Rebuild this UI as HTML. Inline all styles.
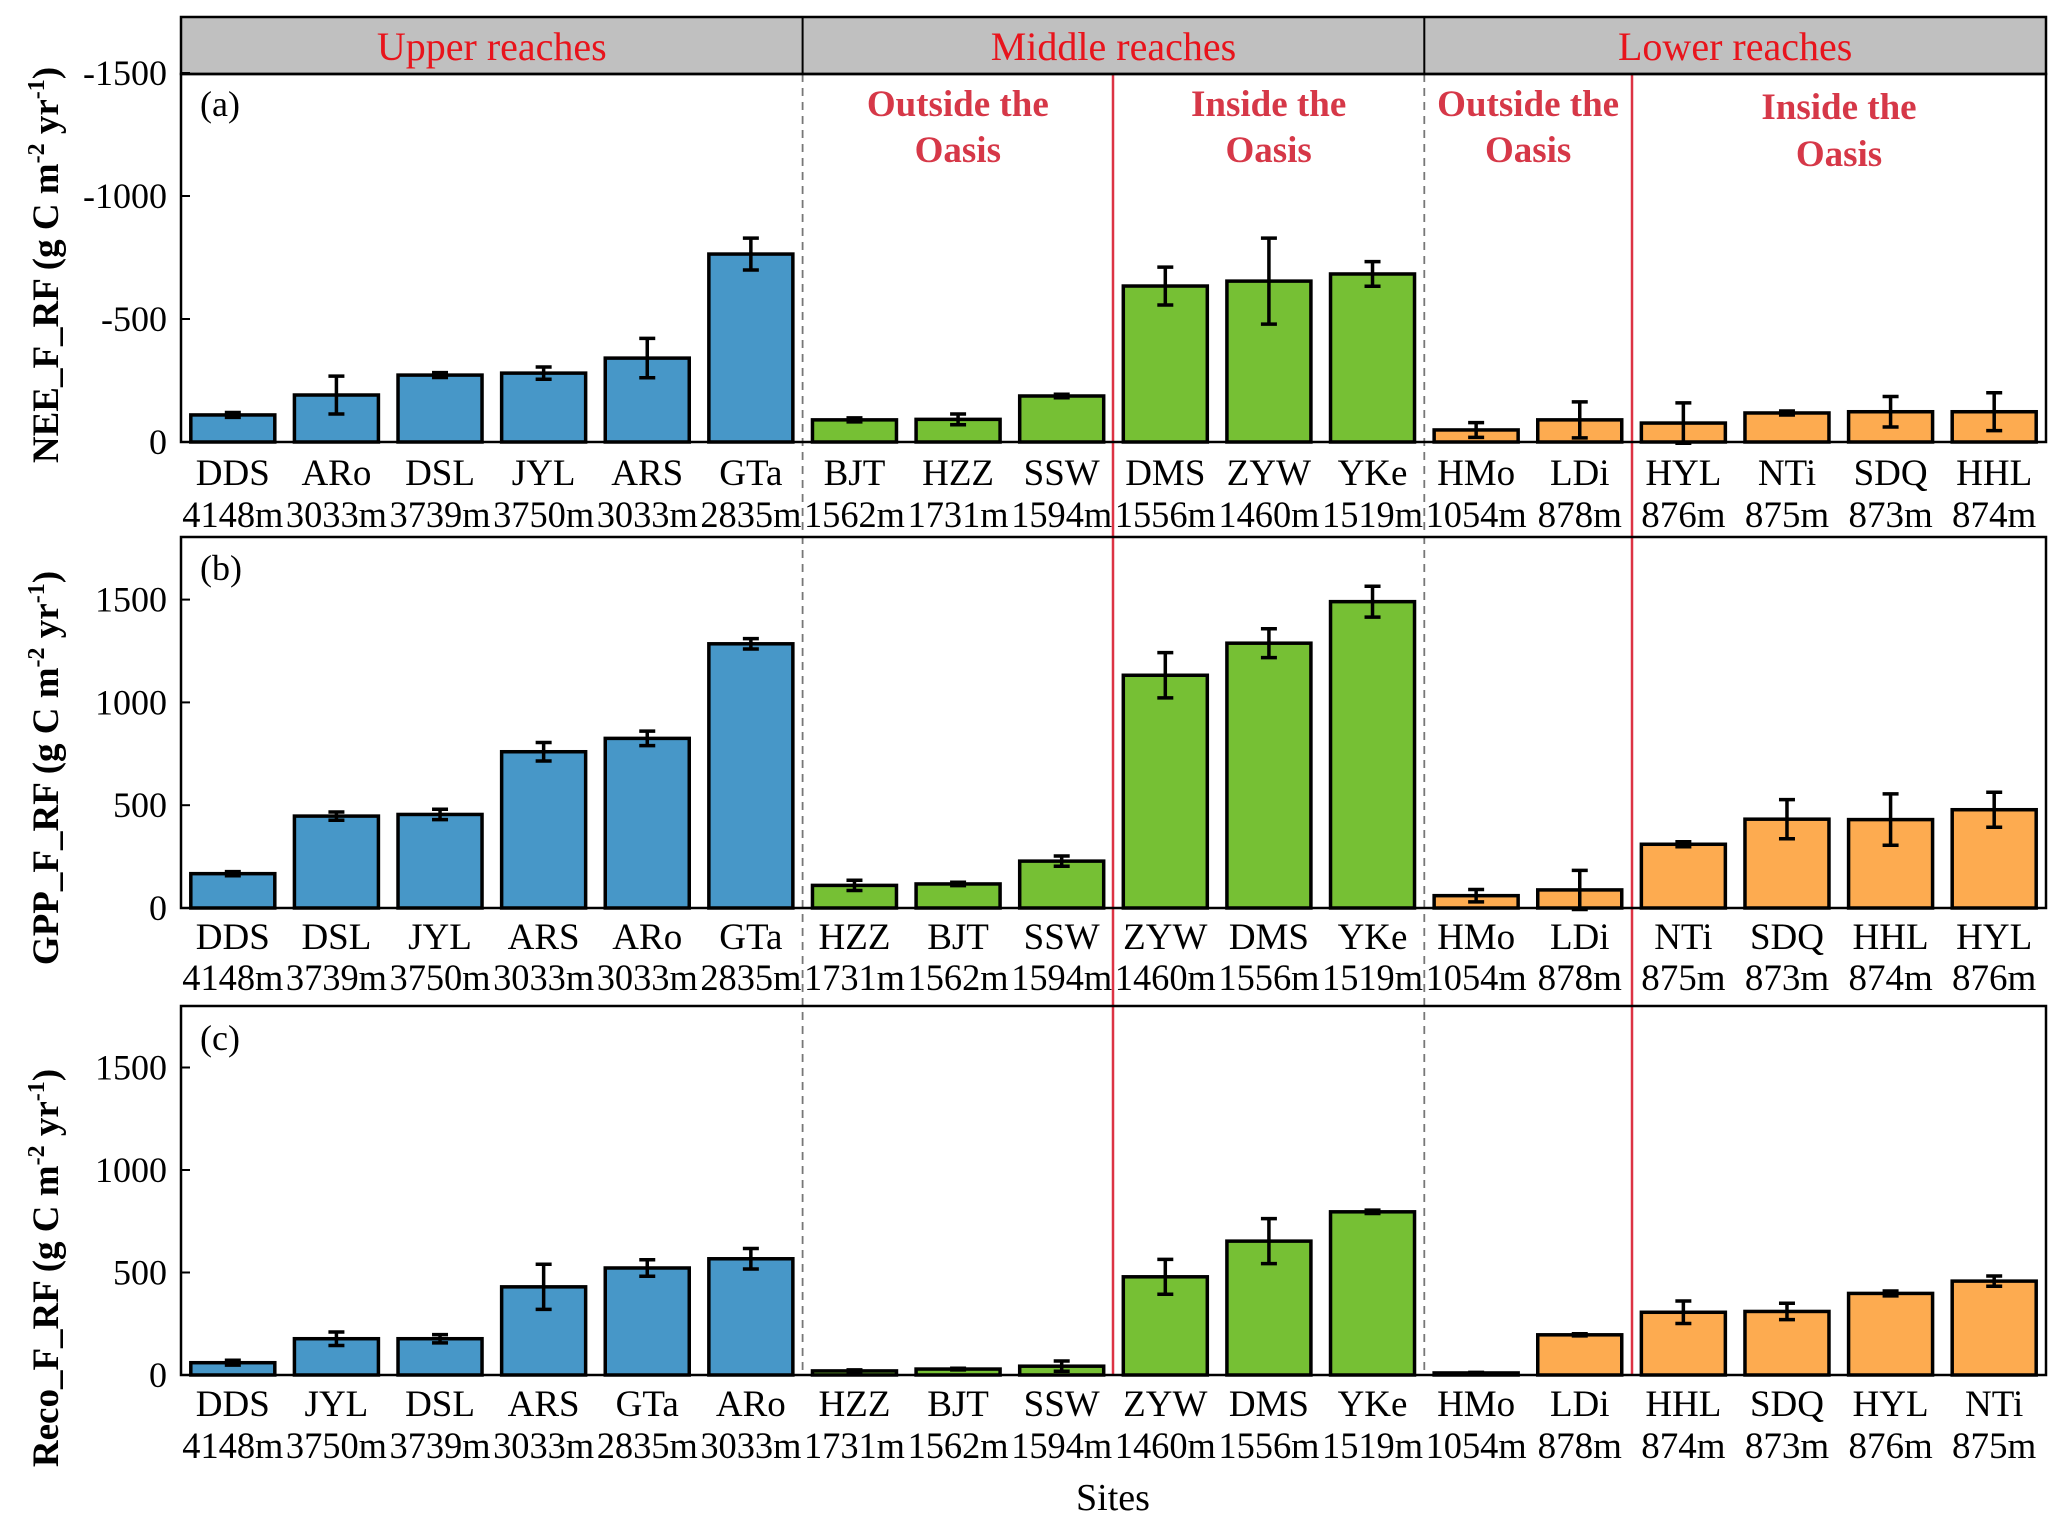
<!DOCTYPE html>
<html><head><meta charset="utf-8"><style>
html,body{margin:0;padding:0;background:#fff;}
svg{display:block;font-family:"Liberation Serif",serif;}
</style></head><body>
<svg id="chart" width="2067" height="1527" viewBox="0 0 2067 1527" xmlns="http://www.w3.org/2000/svg"></svg>
<script>
// ---- data ----
const neeSites = ["DDS","ARo","DSL","JYL","ARS","GTa","BJT","HZZ","SSW","DMS","ZYW","YKe","HMo","LDi","HYL","NTi","SDQ","HHL"];
const neeElev = ["4148m","3033m","3739m","3750m","3033m","2835m","1562m","1731m","1594m","1556m","1460m","1519m","1054m","878m","876m","875m","873m","874m"];
const neeValues = [-110,-191,-272,-280,-341,-764,-90,-92,-187,-634,-654,-683,-49,-90,-77,-118,-123,-123];
const neeErr = [10,77,10,25,80,65,8,22,7,77,175,50,30,73,82,8,62,77];

const gppSites = ["DDS","DSL","JYL","ARS","ARo","GTa","HZZ","BJT","SSW","ZYW","DMS","YKe","HMo","LDi","NTi","SDQ","HHL","HYL"];
const gppElev = ["4148m","3739m","3750m","3033m","3033m","2835m","1731m","1562m","1594m","1460m","1556m","1519m","1054m","878m","875m","873m","874m","876m"];
const gppValues = [167,447,455,760,825,1285,110,117,228,1132,1288,1490,60,88,310,432,430,478];
const gppErr = [10,20,25,45,35,25,25,8,25,110,70,75,30,95,12,95,125,85];

const recoSites = ["DDS","JYL","DSL","ARS","GTa","ARo","HZZ","BJT","SSW","ZYW","DMS","YKe","HMo","LDi","HHL","SDQ","HYL","NTi"];
const recoElev = ["4148m","3750m","3739m","3033m","2835m","3033m","1731m","1562m","1594m","1460m","1556m","1519m","1054m","878m","874m","873m","876m","875m"];
const recoValues = [60,177,177,430,522,567,20,29,43,479,653,796,10,196,306,310,398,458];
const recoErr = [12,33,20,110,40,50,5,4,25,85,110,8,3,5,55,40,12,25];

const groupOf = [0,0,0,0,0,0,1,1,1,1,1,1,2,2,2,2,2,2];
const colors = ["#4797c8","#76c034","#fdab50"];

const NS="http://www.w3.org/2000/svg";
const svg=document.getElementById('chart');
function mk(tag,attrs,parent){const e=document.createElementNS(NS,tag);for(const k in attrs)e.setAttribute(k,attrs[k]);(parent||svg).appendChild(e);return e;}

const X0=181, X1=2046, N=18, slot=(X1-X0)/N, barW=84;
function xc(i){return X0+slot*(i+0.5);}

function panel(cfg){
  const g=mk('g',{});
  
  
  const y=v=>cfg.y0 - (cfg.sign*v)/cfg.perUnit;
  cfg.ticks.forEach(t=>{
    const ty=y(t);
    const ln=mk('line',{x1:X0,x2:X0+9,y1:ty,y2:ty,stroke:'#000','stroke-width':2},g);
    
    
    const tx=mk('text',{x:167,y:ty+12,'text-anchor':'end','font-size':36},g);
    tx.textContent=String(t);
    
    
  });
  cfg.values.forEach((v,i)=>{
    const cx=xc(i), top=y(v), base=cfg.y0;
    const r=mk('rect',{x:cx-barW/2,y:Math.min(top,base),width:barW,height:Math.abs(base-top),fill:colors[groupOf[i]],stroke:'#000','stroke-width':3.5},g);
    
    
    const e=cfg.err[i];
    const ya=y(v-e), yb=y(v+e);
    const eg=mk('g',{stroke:'#000','stroke-width':3.5},g);
    
    
    mk('line',{x1:cx,x2:cx,y1:ya,y2:yb},eg);
    mk('line',{x1:cx-8,x2:cx+8,y1:ya,y2:ya},eg);
    mk('line',{x1:cx-8,x2:cx+8,y1:yb,y2:yb},eg);
    const t1=mk('text',{x:cx,y:cfg.lab1,'text-anchor':'middle','font-size':37},g);
    t1.textContent=cfg.sites[i];
    
    
    const at={x:cx,y:cfg.lab2,'text-anchor':'middle','font-size':37};
    if(cfg.elev[i].length>=5){at.textLength=101;at.lengthAdjust='spacingAndGlyphs';}
    const t2=mk('text',at,g);
    t2.textContent=cfg.elev[i];
    
    
  });
  const fr=mk('rect',{x:X0,y:cfg.top,width:X1-X0,height:cfg.y0-cfg.top,fill:'none',stroke:'#000','stroke-width':2.5},g);
  
  
  const pl=mk('text',{x:200,y:cfg.lettY,'font-size':36},g);
  pl.textContent=cfg.letter;
  
  
  const yt=mk('text',{x:0,y:0,'font-size':37,'font-weight':'bold','text-anchor':'middle',transform:`translate(58,${cfg.titleY}) rotate(-90)`},g);
  
  
  yt.innerHTML=cfg.title+' (g C m<tspan dy="-14" font-size="24">-2</tspan><tspan dy="14"> yr</tspan><tspan dy="-14" font-size="24">-1</tspan><tspan dy="14">)</tspan>';
}

[802.6,1424.3].forEach(x=>{
  const l=mk('line',{x1:x,x2:x,y1:74,y2:1375,stroke:'#777','stroke-width':1.8,'stroke-dasharray':'8,6'});
  
  
});
[1113,1632].forEach(x=>{
  const l=mk('line',{x1:x,x2:x,y1:74,y2:1375,stroke:'#dd3344','stroke-width':2.5});
  
  
});

const hd=mk('rect',{x:X0,y:17,width:X1-X0,height:57,fill:'#c0c0c0',stroke:'#000','stroke-width':2.5});


[802.6,1424.3].forEach(x=>{const l=mk('line',{x1:x,x2:x,y1:17,y2:74,stroke:'#000','stroke-width':2});});
[["Upper reaches",(X0+802.6)/2],["Middle reaches",(802.6+1424.3)/2],["Lower reaches",(1424.3+X1)/2]].forEach(([t,x])=>{
  const e=mk('text',{x:x,y:60,'text-anchor':'middle','font-size':40,fill:'#e8141c'});
  e.textContent=t;
  
  
});
[["Outside the",(802.6+1113)/2,116],["Oasis",(802.6+1113)/2,162],["Inside the",(1113+1424.3)/2,116],["Oasis",(1113+1424.3)/2,162],
 ["Outside the",(1424.3+1632)/2,116],["Oasis",(1424.3+1632)/2,162],["Inside the",(1632+X1)/2,119],["Oasis",(1632+X1)/2,166]].forEach(([t,x,y])=>{
  const e=mk('text',{x:x,y:y,'text-anchor':'middle','font-size':37,'font-weight':'bold',fill:'#d63848'});
  e.textContent=t;
  
  
});

panel({name:'panel-a-nee',sites:neeSites,elev:neeElev,values:neeValues,err:neeErr,sign:-1,y0:442,perUnit:500/123,top:74,
  ticks:[0,-500,-1000,-1500],lab1:485,lab2:527,letter:'(a)',lettY:116,title:'NEE_F_RF',titleY:265});
panel({name:'panel-b-gpp',sites:gppSites,elev:gppElev,values:gppValues,err:gppErr,sign:1,y0:908,perUnit:500/102.8,top:537,
  ticks:[0,500,1000,1500],lab1:949,lab2:990,letter:'(b)',lettY:580,title:'GPP_F_RF',titleY:768});
panel({name:'panel-c-reco',sites:recoSites,elev:recoElev,values:recoValues,err:recoErr,sign:1,y0:1375,perUnit:500/102.5,top:1006,
  ticks:[0,500,1000,1500],lab1:1416,lab2:1458,letter:'(c)',lettY:1050,title:'Reco_F_RF',titleY:1268});

const xt=mk('text',{x:1113,y:1510,'text-anchor':'middle','font-size':38});
xt.textContent='Sites';


</script>
</body></html>
